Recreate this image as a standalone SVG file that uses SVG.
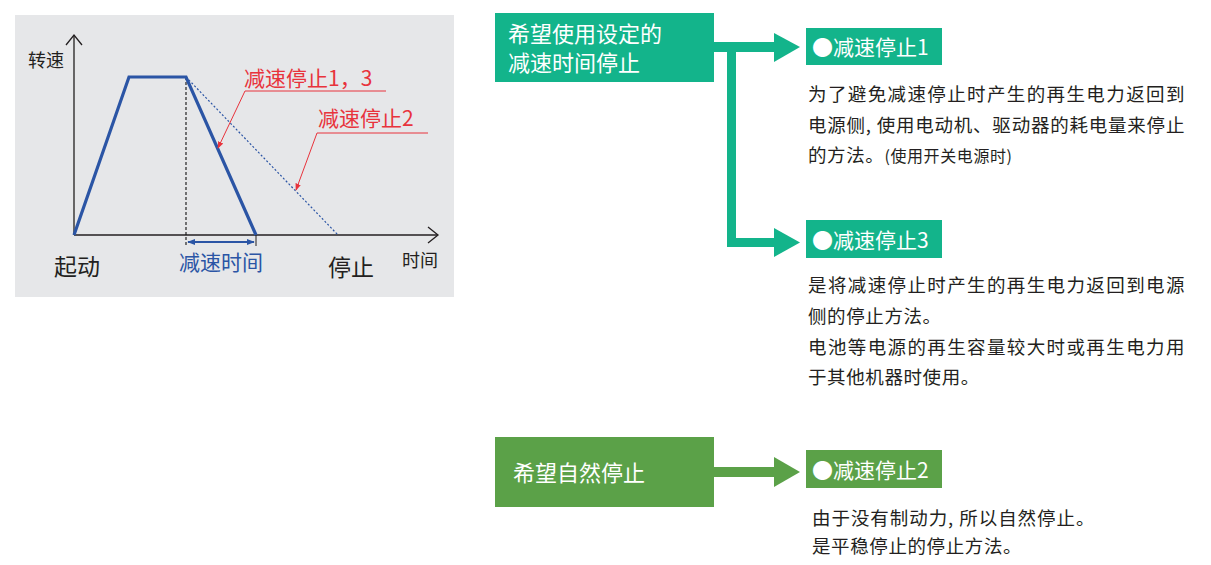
<svg xmlns="http://www.w3.org/2000/svg" width="1211" height="565" viewBox="0 0 1211 565">
<defs>
<style>
text{font-family:"Noto Sans CJK SC","Noto Sans",sans-serif;}
.wt{fill:#ffffff;}
.body{font-size:18.5px;fill:#231f20;letter-spacing:0.6px;}
.blk{fill:#231f20;}
.red{fill:#e8333c;}
.blu{fill:#2b55a5;}
.teal{fill:#13b48b;}
.grn{fill:#5ba148;}
</style>
<marker id="ra" viewBox="0 0 10 10" refX="9" refY="5" markerWidth="7" markerHeight="7" orient="auto" markerUnits="userSpaceOnUse">
<path d="M0,1 L10,5 L0,9 Z" fill="#e8333c"/>
</marker>
<marker id="ba" viewBox="0 0 10 10" refX="9" refY="5" markerWidth="8" markerHeight="8" orient="auto-start-reverse" markerUnits="userSpaceOnUse">
<path d="M0,1 L10,5 L0,9 Z" fill="#2b55a5"/>
</marker>
</defs>

<g id="chart">
<rect x="15" y="15" width="439" height="282" fill="#e6e7e9"/>
<line x1="74" y1="35" x2="74" y2="235" stroke="#231f20" stroke-width="1.3"/>
<polyline points="66,45 74,35 82,45" fill="none" stroke="#231f20" stroke-width="1.3"/>
<line x1="74" y1="235" x2="437" y2="235" stroke="#231f20" stroke-width="1.3"/>
<polyline points="428,227 438,235 428,243" fill="none" stroke="#231f20" stroke-width="1.3"/>
<line x1="186" y1="77" x2="186" y2="246" stroke="#111111" stroke-width="1.1" stroke-dasharray="3,2"/>
<line x1="186" y1="77" x2="338" y2="235" stroke="#2b55a5" stroke-width="1.2" stroke-dasharray="2,2"/>
<polyline points="74,235 129,77 186,77 256,235" fill="none" stroke="#2b55a5" stroke-width="3.2" stroke-linejoin="miter"/>
<line x1="256" y1="235" x2="256" y2="246" stroke="#231f20" stroke-width="1"/>
<line x1="188" y1="242" x2="254" y2="242" stroke="#2b55a5" stroke-width="2.2" marker-start="url(#ba)" marker-end="url(#ba)"/>
<line x1="245" y1="91" x2="386" y2="91" stroke="#e8333c" stroke-width="1"/>
<line x1="245" y1="91" x2="218" y2="148" stroke="#e8333c" stroke-width="1" marker-end="url(#ra)"/>
<line x1="317" y1="133" x2="428" y2="133" stroke="#e8333c" stroke-width="1"/>
<line x1="317" y1="133" x2="296" y2="190" stroke="#e8333c" stroke-width="1" marker-end="url(#ra)"/>
<text x="28" y="67" font-size="18" class="blk">转速</text>
<text x="244" y="86" font-size="21" class="red">减速停止1，3</text>
<text x="318" y="126" font-size="21" class="red">减速停止2</text>
<text x="54" y="275" font-size="23" class="blk">起动</text>
<text x="179" y="270" font-size="21" class="blu">减速时间</text>
<text x="328" y="276" font-size="23" class="blk">停止</text>
<text x="402" y="267" font-size="18" class="blk">时间</text>
</g>

<g id="connectors">
<rect x="714" y="42" width="62" height="10" class="teal"/>
<polygon points="774,33 800,47 774,62" class="teal"/>
<rect x="727" y="42" width="9" height="205" class="teal"/>
<rect x="727" y="238" width="49" height="9" class="teal"/>
<polygon points="774,228 800,242.5 774,257" class="teal"/>
<rect x="714" y="467" width="62" height="10" class="grn"/>
<polygon points="774,457 800,472 774,487" class="grn"/>
</g>

<g id="node-decel-wish">
<rect x="495" y="13" width="219" height="69" class="teal"/>
<text x="508" y="42" font-size="22" class="wt">希望使用设定的</text>
<text x="508" y="71" font-size="22" class="wt">减速时间停止</text>
</g>

<g id="node-natural-wish">
<rect x="495" y="437" width="219" height="70" class="grn"/>
<text x="513" y="481" font-size="22" class="wt">希望自然停止</text>
</g>

<g id="node-stop1">
<rect x="806" y="28" width="136" height="37" class="teal"/>
<text x="812" y="55" font-size="21" class="wt">●减速停止1</text>
<text x="808" y="101" class="body" textLength="377" lengthAdjust="spacing">为了避免减速停止时产生的再生电力返回到</text>
<text x="808" y="132" class="body" textLength="377" lengthAdjust="spacing">电源侧, 使用电动机、驱动器的耗电量来停止</text>
<text x="808" y="162" class="body">的方法。<tspan font-size="16">(使用开关电源时)</tspan></text>
</g>

<g id="node-stop3">
<rect x="806" y="220" width="136" height="38" class="teal"/>
<text x="812" y="248" font-size="21" class="wt">●减速停止3</text>
<text x="808" y="292" class="body" textLength="377" lengthAdjust="spacing">是将减速停止时产生的再生电力返回到电源</text>
<text x="808" y="323" class="body">侧的停止方法。</text>
<text x="808" y="354" class="body" textLength="377" lengthAdjust="spacing">电池等电源的再生容量较大时或再生电力用</text>
<text x="808" y="384" class="body">于其他机器时使用。</text>
</g>

<g id="node-stop2">
<rect x="806" y="450" width="136" height="38" class="grn"/>
<text x="812" y="478" font-size="21" class="wt">●减速停止2</text>
<text x="812" y="525" class="body" textLength="283" lengthAdjust="spacing">由于没有制动力, 所以自然停止。</text>
<text x="812" y="553" class="body">是平稳停止的停止方法。</text>
</g>
</svg>
